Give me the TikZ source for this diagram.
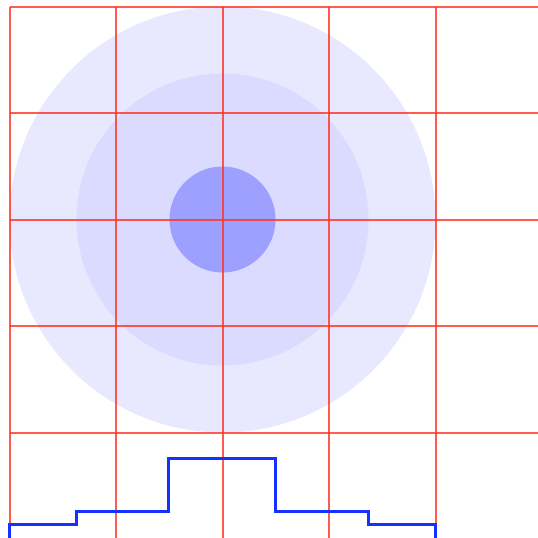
\documentclass[tikz,border=0pt]{standalone}
\begin{document}
\begin{tikzpicture}[x=1pt,y=-1pt,
  gridline/.style={draw={rgb,255:red,255;green,50;blue,35}, line width=2pt, opacity=0.8},
  stepline/.style={draw={rgb,255:red,20;green,50;blue,255}, line width=3pt, line join=miter}]
\definecolor{outerc}{RGB}{232,232,255}
\definecolor{midc}{RGB}{219,219,255}
\definecolor{innerc}{RGB}{157,160,255}
\useasboundingbox (0,0) rectangle (538,538);
\begin{scope}
\clip (0,0) rectangle (538,538);
% circles
\fill[outerc] (222.5,219.5) circle (213);
\fill[midc] (222.5,219.5) circle (146);
\fill[innerc] (222.5,219.5) circle (53);
% grid
\foreach \y in {6.5,113,219.5,326,432.5,539}
  \draw[gridline] (9.5,\y) -- (540,\y);
\foreach \x in {9.5,116,222.5,329,435.5}
  \draw[gridline] (\x,6.5) -- (\x,540);
% step function
\draw[stepline] (9.5,540) -- (9.5,524.5) -- (76,524.5) -- (76,511) -- (168.8,511) -- (168.8,458.3)
  -- (275.5,458.3) -- (275.5,511) -- (368.3,511) -- (368.3,524.5) -- (435.5,524.5) -- (435.5,540);
\end{scope}
\end{tikzpicture}
\end{document}
